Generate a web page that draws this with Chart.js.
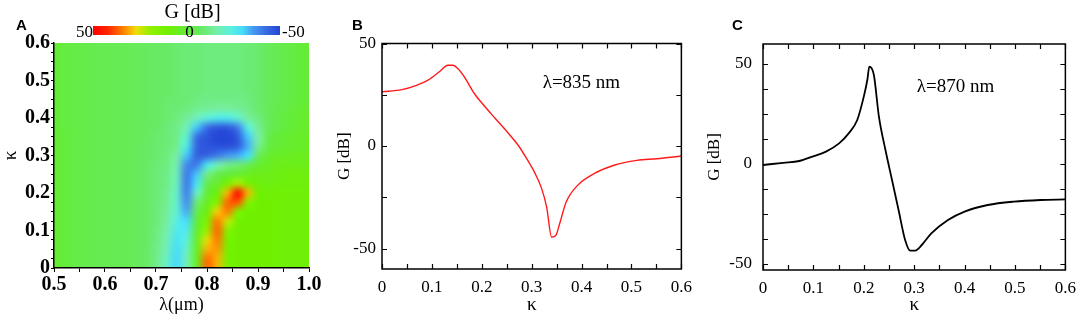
<!DOCTYPE html>
<html>
<head>
<meta charset="utf-8">
<script src="https://cdn.jsdelivr.net/npm/chart.js@4.4.1/dist/chart.umd.min.js"></script>
<style>
  body { margin: 0; background: #fff; }
  #wrap { position: relative; width: 1084px; height: 318px; overflow: hidden; background: #fff; }
  canvas { position: absolute; top: 0; }
</style>
</head>
<body>
<div id="wrap">
  <canvas id="chartA" width="330" height="318" style="left:0px"></canvas>
  <canvas id="chartB" width="370" height="318" style="left:330px"></canvas>
  <canvas id="chartC" width="384" height="318" style="left:700px"></canvas>
</div>
<script>
// ---- panel A : gain map G [dB] over wavelength and coupling ----
const lambdaGrid = [0.50, 0.52, 0.54, 0.56, 0.58, 0.60, 0.62, 0.64, 0.66, 0.68, 0.70, 0.72, 0.74,
  0.76, 0.78, 0.80, 0.82, 0.84, 0.86, 0.88, 0.90, 0.92, 0.94, 0.96, 0.98, 1.00];
const kappaGrid = [0, 0.025, 0.05, 0.075, 0.1, 0.125, 0.15, 0.175, 0.2, 0.225, 0.25, 0.275, 0.3,
  0.325, 0.35, 0.375, 0.4, 0.425, 0.45, 0.475, 0.5, 0.525, 0.55, 0.575, 0.6];
// one row per kappa (from kappa = 0 upward), one value per lambda
const gainMap = [
  [2, 0, -2, -3, -4, -4, -5, -5, -6, -8, -12, -20, -30, -18, 4, 36, 30, 12, 10, 10, 10, 10, 9, 9, 9, 9],
  [2, 0, -2, -3, -4, -4, -5, -5, -6, -8, -12, -19, -30, -18, 4, 35, 30, 12, 10, 10, 10, 10, 9, 9, 9, 9],
  [2, 0, -2, -3, -4, -4, -5, -5, -6, -8, -12, -18, -29, -20, 4, 30, 32, 12, 10, 10, 10, 10, 9, 9, 9, 9],
  [2, 0, -2, -3, -4, -4, -5, -5, -6, -8, -11, -17, -28, -23, 3, 26, 34, 13, 10, 10, 10, 10, 9, 9, 9, 9],
  [2, 0, -2, -3, -4, -4, -5, -5, -6, -8, -11, -16, -26, -26, 2, 20, 36, 16, 10, 10, 10, 10, 9, 9, 9, 9],
  [2, 0, -2, -3, -4, -4, -5, -5, -6, -8, -10, -15, -24, -30, 0, 14, 34, 24, 11, 10, 10, 10, 9, 9, 9, 9],
  [2, 0, -2, -3, -4, -4, -5, -5, -6, -8, -10, -14, -22, -34, -4, 8, 28, 34, 14, 10, 10, 10, 9, 9, 9, 9],
  [2, 0, -2, -3, -4, -4, -5, -5, -6, -8, -10, -13, -21, -37, -10, 4, 16, 36, 38, 16, 10, 10, 9, 9, 9, 9],
  [2, 0, -2, -3, -4, -4, -5, -5, -6, -8, -10, -13, -20, -39, -20, 0, 8, 30, 48, 30, 10, 9, 9, 9, 9, 9],
  [2, 0, -2, -3, -4, -4, -5, -5, -6, -8, -10, -12, -19, -40, -28, -4, 2, 12, 22, 12, 8, 7, 8, 8, 8, 8],
  [2, 0, -2, -3, -4, -4, -5, -5, -6, -8, -10, -12, -18, -40, -32, -12, -4, 0, 2, 4, 6, 6, 7, 8, 8, 8],
  [2, 0, -2, -3, -4, -4, -5, -5, -6, -8, -10, -11, -17, -38, -40, -28, -18, -12, -10, -6, 2, 4, 6, 6, 6, 6],
  [2, 0, -2, -3, -4, -4, -5, -5, -6, -8, -9, -11, -15, -32, -44, -44, -40, -36, -34, -30, -8, 2, 4, 4, 5, 5],
  [2, 0, -2, -3, -4, -4, -5, -5, -6, -8, -9, -10, -13, -26, -44, -47, -48, -48, -46, -34, -14, -2, 1, 2, 3, 4],
  [2, 0, -2, -3, -4, -4, -5, -5, -6, -7, -9, -10, -12, -22, -42, -47, -50, -50, -46, -32, -16, -4, 1, 2, 3, 4],
  [1, -1, -2, -3, -4, -4, -5, -5, -6, -7, -8, -10, -12, -18, -32, -42, -46, -46, -40, -24, -14, -6, -2, 0, 2, 3],
  [1, -1, -2, -3, -4, -4, -5, -5, -6, -7, -8, -9, -11, -14, -19, -23, -26, -26, -22, -15, -11, -6, -2, 0, 2, 3],
  [1, -1, -2, -3, -4, -4, -5, -5, -6, -7, -8, -9, -10, -11, -13, -14, -15, -15, -14, -12, -9, -6, -3, -1, 1, 2],
  [1, -1, -2, -3, -4, -4, -5, -5, -6, -7, -8, -9, -9, -10, -11, -12, -12, -12, -12, -11, -9, -6, -4, -2, 0, 1],
  [1, -1, -2, -3, -4, -4, -5, -5, -6, -7, -8, -8, -9, -10, -10, -11, -11, -11, -11, -10, -9, -6, -4, -2, 0, 1],
  [1, -1, -2, -3, -4, -4, -5, -5, -6, -7, -8, -8, -9, -10, -10, -11, -11, -11, -11, -10, -9, -6, -4, -2, 0, 1],
  [1, -1, -2, -3, -4, -4, -5, -5, -6, -7, -8, -8, -9, -10, -10, -11, -11, -11, -11, -10, -9, -6, -4, -2, 0, 1],
  [1, -1, -2, -3, -4, -4, -5, -5, -6, -7, -8, -8, -9, -10, -10, -11, -11, -11, -11, -10, -9, -6, -4, -2, 0, 1],
  [1, -1, -2, -3, -4, -4, -5, -5, -6, -7, -8, -8, -9, -10, -10, -11, -11, -11, -11, -10, -9, -6, -4, -2, 0, 1],
  [1, -1, -2, -3, -4, -4, -5, -5, -6, -7, -8, -8, -9, -10, -10, -11, -11, -11, -11, -10, -9, -6, -4, -2, 0, 1],
];
const lambdaTicks = [0.5, 0.55, 0.6, 0.65, 0.7, 0.75, 0.8, 0.85, 0.9, 0.95, 1.0];
const lambdaTickLabels = ["0.5", "", "0.6", "", "0.7", "", "0.8", "", "0.9", "", "1.0"];
const kappaTicksA = [0, 0.025, 0.05, 0.075, 0.1, 0.125, 0.15, 0.175, 0.2, 0.225, 0.25, 0.275, 0.3,
  0.325, 0.35, 0.375, 0.4, 0.425, 0.45, 0.475, 0.5, 0.525, 0.55, 0.575, 0.6];
const kappaTickLabelsA = ["0", "", "", "", "0.1", "", "", "", "0.2", "", "", "", "0.3",
  "", "", "", "0.4", "", "", "", "0.5", "", "", "", "0.6"];
const colorbarTicks = [50, 0, -50];

// ---- panels B and C : G [dB] against kappa ----
const kappaB = [0, 0.04, 0.069, 0.092, 0.115, 0.132, 0.142, 0.152, 0.165, 0.185, 0.201, 0.227, 0.254, 0.274,
  0.290, 0.307, 0.320, 0.330, 0.340, 0.349, 0.356, 0.369, 0.392, 0.425, 0.465, 0.511, 0.551, 0.600];
const gainB = [26.4, 27.5, 29.6, 32.1, 36.2, 39.4, 39.4, 37.8, 33.7, 25.6, 20.7, 13.4, 6.0, 0,
  -6.2, -13.5, -20.8, -29.8, -44.5, -43.3, -37.9, -27.4, -19.2, -13.5, -9.4, -7.0, -6.2, -4.9];
const kappaC = [0, 0.04, 0.072, 0.098, 0.125, 0.151, 0.170, 0.187, 0.200, 0.207, 0.211, 0.220, 0.230, 0.243,
  0.256, 0.269, 0.282, 0.292, 0.302, 0.315, 0.334, 0.367, 0.400, 0.446, 0.498, 0.551, 0.600];
const gainC = [-0.5, 0.6, 1.5, 3.7, 6.2, 10.3, 15.3, 22, 33.7, 42, 48.7, 44.5, 23.7, 7,
  -8, -23, -38, -43.3, -43.3, -40.5, -34.7, -28, -23.8, -20.5, -18.8, -18, -17.7];
const kappaTicks = [0, 0.05, 0.1, 0.15, 0.2, 0.25, 0.3, 0.35, 0.4, 0.45, 0.5, 0.55, 0.6];
const kappaTickLabels = ["0", "", "0.1", "", "0.2", "", "0.3", "", "0.4", "", "0.5", "", "0.6"];
const gainTicksB = [-50, -25, 0, 25, 50];
const gainTickLabelsB = ["-50", "", "0", "", "50"];
const gainTicksC = [-50, -37.5, -25, -12.5, 0, 12.5, 25, 37.5, 50];
const gainTickLabelsC = ["-50", "", "", "", "0", "", "", "", "50"];

// colour scale (dB -> rgb), red for gain, blue for loss
const colorStops = [
  [50, [255, 0, 0]], [42, [255, 40, 0]], [34, [255, 125, 0]], [27, [240, 220, 10]],
  [20, [150, 240, 0]], [10, [112, 240, 0]], [0, [100, 236, 60]], [-8, [104, 234, 100]],
  [-16, [120, 238, 170]], [-24, [90, 240, 225]], [-30, [70, 220, 250]], [-36, [70, 150, 240]],
  [-43, [55, 105, 225]], [-50, [35, 70, 215]],
];

const serif = "'Liberation Serif', 'Times New Roman', serif";

function gainColor(v) {
  if (v >= colorStops[0][0]) return colorStops[0][1];
  for (let i = 1; i < colorStops.length; i++) {
    const [v1, c1] = colorStops[i];
    const [v0, c0] = colorStops[i - 1];
    if (v >= v1) {
      const t = (v - v1) / (v0 - v1);
      return c1.map((c, k) => Math.round(c + (c0[k] - c) * t));
    }
  }
  return colorStops[colorStops.length - 1][1];
}

Chart.defaults.font.family = serif;
Chart.defaults.color = "#000";
Chart.defaults.animation = false;

const useTicks = (values) => (scale) => { scale.ticks = values.map((v) => ({ value: v })); };
const fixWidth = (w) => (scale) => { scale.width = w; };
const fixHeight = (h) => (scale) => { scale.height = h; };

// heat map cells, placed on the chart through the x/y scales
const heatmapPlugin = {
  id: "heatmap",
  beforeDraw(chart) {
    const { ctx, chartArea: a, scales: { x, y } } = chart;
    const nx = lambdaGrid.length;
    const ny = kappaGrid.length;
    const off = document.createElement("canvas");
    off.width = nx;
    off.height = ny;
    const octx = off.getContext("2d");
    const img = octx.createImageData(nx, ny);
    for (let j = 0; j < ny; j++) {
      for (let i = 0; i < nx; i++) {
        const [r, g, b] = gainColor(gainMap[j][i]);
        const p = ((ny - 1 - j) * nx + i) * 4;
        img.data[p] = r;
        img.data[p + 1] = g;
        img.data[p + 2] = b;
        img.data[p + 3] = 255;
      }
    }
    octx.putImageData(img, 0, 0);
    const dl = (lambdaGrid[1] - lambdaGrid[0]) / 2;
    const dk = (kappaGrid[1] - kappaGrid[0]) / 2;
    const left = x.getPixelForValue(lambdaGrid[0] - dl);
    const right = x.getPixelForValue(lambdaGrid[nx - 1] + dl);
    const top = y.getPixelForValue(kappaGrid[ny - 1] + dk);
    const bottom = y.getPixelForValue(kappaGrid[0] - dk);
    ctx.save();
    ctx.beginPath();
    ctx.rect(a.left, a.top, a.width, a.height);
    ctx.clip();
    ctx.imageSmoothingEnabled = true;
    ctx.imageSmoothingQuality = "high";
    ctx.drawImage(off, left, top, right - left, bottom - top);
    ctx.restore();
  },
  afterDraw(chart) {
    // colour bar above the map
    const { ctx, chartArea: a } = chart;
    const x0 = a.left + 39, x1 = a.right - 29, y0 = 26, y1 = 35;
    const vMax = colorbarTicks[0], vMin = colorbarTicks[colorbarTicks.length - 1];
    const grad = ctx.createLinearGradient(x0, 0, x1, 0);
    colorStops.forEach(([v, c]) => grad.addColorStop((vMax - v) / (vMax - vMin), "rgb(" + c.join(",") + ")"));
    ctx.save();
    ctx.fillStyle = grad;
    ctx.fillRect(x0, y0, x1 - x0, y1 - y0);
    ctx.fillStyle = "#000";
    ctx.font = "17px " + serif;
    ctx.textBaseline = "alphabetic";
    ctx.textAlign = "right";
    ctx.fillText(String(vMax), x0, 37);
    ctx.textAlign = "center";
    ctx.fillText(String(colorbarTicks[1]), (x0 + x1) / 2 + 3, 37);
    ctx.textAlign = "left";
    ctx.fillText(String(vMin), x1 + 2, 37);
    ctx.font = "20px " + serif;
    ctx.textAlign = "center";
    ctx.fillText("G [dB]", (x0 + x1) / 2 + 6, 18);
    ctx.font = "bold 15px 'Liberation Sans'";
    ctx.textAlign = "left";
    ctx.fillText("A", 16, 30);
    ctx.restore();
  },
};

// closed frame with inward ticks, panel letter and wavelength note
const framePlugin = {
  id: "frame",
  afterDraw(chart, args, opts) {
    const { ctx, chartArea: a, scales: { x, y } } = chart;
    ctx.save();
    ctx.strokeStyle = "#000";
    ctx.lineWidth = 1.5;
    ctx.strokeRect(a.left, a.top, a.width, a.height);
    ctx.lineWidth = 1.2;
    ctx.beginPath();
    x.ticks.forEach((t) => {
      const px = Math.round(x.getPixelForValue(t.value)) + 0.5;
      ctx.moveTo(px, a.bottom); ctx.lineTo(px, a.bottom - 5);
      ctx.moveTo(px, a.top); ctx.lineTo(px, a.top + 5);
    });
    y.ticks.forEach((t) => {
      const py = Math.round(y.getPixelForValue(t.value)) + 0.5;
      ctx.moveTo(a.left, py); ctx.lineTo(a.left + 5, py);
      ctx.moveTo(a.right, py); ctx.lineTo(a.right - 5, py);
    });
    ctx.stroke();
    ctx.fillStyle = "#000";
    ctx.font = "19px " + serif;
    ctx.textAlign = "left";
    ctx.fillText(opts.note, x.getPixelForValue(opts.noteAt[0]), y.getPixelForValue(opts.noteAt[1]));
    ctx.font = "bold 15px 'Liberation Sans'";
    ctx.fillText(opts.letter, opts.letterX, 30);
    ctx.restore();
  },
};

new Chart(document.getElementById("chartA"), {
  type: "scatter",
  data: { datasets: [{ data: [] }] },
  options: {
    responsive: false,
    layout: { padding: { top: 43, right: 21, bottom: 0, left: 0 } },
    plugins: { legend: { display: false }, tooltip: { enabled: false } },
    scales: {
      x: {
        type: "linear", min: 0.5, max: 1.0,
        afterBuildTicks: useTicks(lambdaTicks),
        afterFit: fixHeight(50),
        grid: { drawOnChartArea: false, drawTicks: true, tickLength: 4, color: "#000", lineWidth: 1 },
        border: { display: true, color: "#000", width: 1.5 },
        ticks: { autoSkip: false, maxRotation: 0, padding: 1, font: { family: serif, size: 20, weight: "bold" },
          callback: (v, i) => lambdaTickLabels[i] },
        title: { display: true, text: "λ(μm)", font: { family: serif, size: 18 }, padding: { top: 0, bottom: 2 } },
      },
      y: {
        type: "linear", min: 0, max: 0.6,
        afterBuildTicks: useTicks(kappaTicksA),
        afterFit: fixWidth(54),
        grid: { drawOnChartArea: false, drawTicks: true, tickLength: 3, color: "#000", lineWidth: 1 },
        border: { display: true, color: "#000", width: 1.5 },
        ticks: { autoSkip: false, padding: 1, font: { family: serif, size: 20, weight: "bold" },
          callback: (v, i) => kappaTickLabelsA[i] },
        title: { display: true, text: "κ", font: { family: serif, size: 19 }, padding: 0 },
      },
    },
  },
  plugins: [heatmapPlugin],
});

function gainChart(id, kappa, gain, color, width, yRange, yTicks, yLabels, pad, yAxisWidth, xAxisHeight, labelPad, frame) {
  return new Chart(document.getElementById(id), {
    type: "line",
    data: {
      datasets: [{
        data: kappa.map((k, i) => ({ x: k, y: gain[i] })),
        borderColor: color,
        borderWidth: width,
        pointRadius: 0,
        cubicInterpolationMode: "monotone",
        fill: false,
      }],
    },
    options: {
      responsive: false,
      layout: { padding: pad },
      plugins: { legend: { display: false }, tooltip: { enabled: false }, frame },
      scales: {
        x: {
          type: "linear", min: 0, max: 0.6,
          afterBuildTicks: useTicks(kappaTicks),
          afterFit: fixHeight(xAxisHeight),
          grid: { display: false, drawTicks: false },
          border: { display: false },
          ticks: { autoSkip: false, maxRotation: 0, padding: 8, font: { family: serif, size: 17 },
            callback: (v, i) => kappaTickLabels[i] },
          title: { display: true, text: "κ", font: { family: serif, size: 19 }, padding: { top: 0, bottom: 2 } },
        },
        y: {
          type: "linear", min: yRange[0], max: yRange[1],
          afterBuildTicks: useTicks(yTicks),
          afterFit: fixWidth(yAxisWidth),
          grid: { display: false, drawTicks: false },
          border: { display: false },
          ticks: { autoSkip: false, padding: labelPad, font: { family: serif, size: 17 },
            callback: (v, i) => yLabels[i] },
          title: { display: true, text: "G [dB]", font: { family: serif, size: 17 }, padding: { top: 4, bottom: 0 } },
        },
      },
    },
    plugins: [framePlugin],
  });
}

gainChart("chartB", kappaB, gainB, "#ff1a1a", 1.4, [-60, 50], gainTicksB, gainTickLabelsB,
  { top: 43.5, right: 15, bottom: 0, left: 0 }, 52, 49, 6,
  { note: "λ=835 nm", noteAt: [0.322, 28.3], letter: "B", letterX: 22 });

gainChart("chartC", kappaC, gainC, "#000", 1.8, [-53, 60], gainTicksC, gainTickLabelsC,
  { top: 44, right: 16, bottom: 0, left: 0 }, 63, 48, 11,
  { note: "λ=870 nm", noteAt: [0.305, 36], letter: "C", letterX: 32 });
</script>
</body>
</html>
